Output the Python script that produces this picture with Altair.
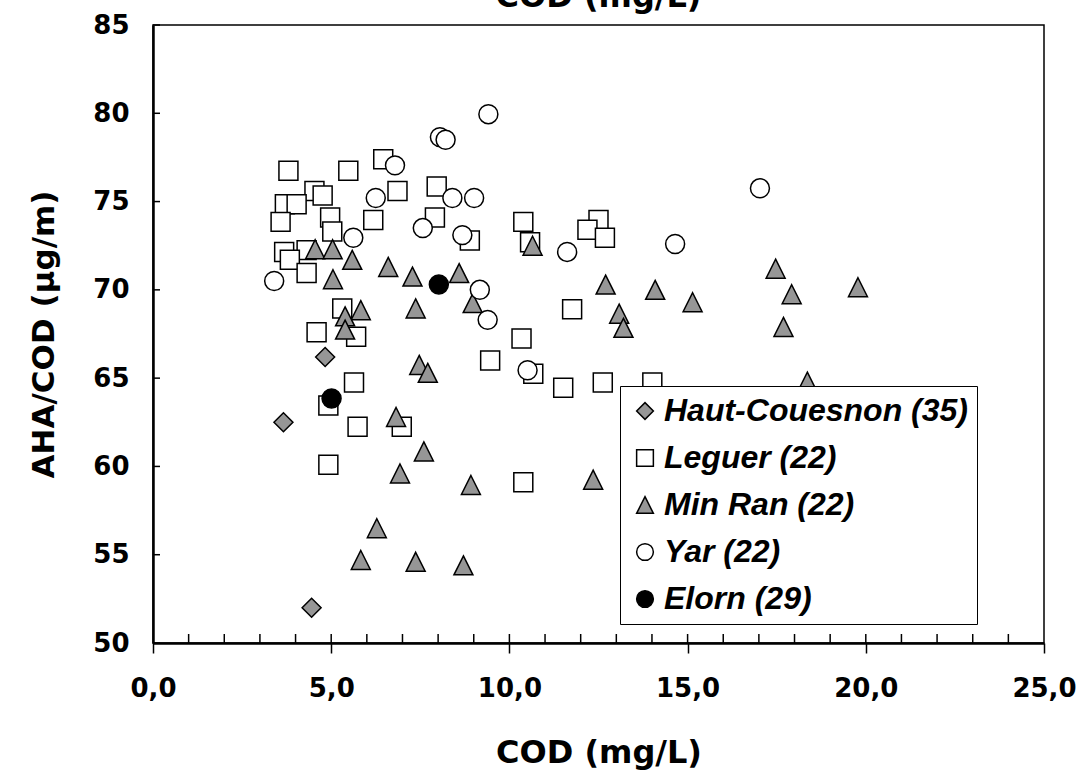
import altair as alt
import pandas as pd

# ---------------- data ----------------
series_names = ["Haut-Couesnon (35)", "Leguer (22)", "Min Ran (22)", "Yar (22)", "Elorn (29)"]

haut_x = [4.83, 3.66, 4.45]
haut_y = [66.2, 62.5, 52.0]

leguer_x = [3.80, 5.48, 6.46, 4.53, 4.76, 3.70, 4.03, 6.86, 7.96, 3.58, 4.97, 6.18, 7.91, 5.03,
            8.89, 10.39, 10.58, 3.68, 4.31, 3.84, 4.31, 5.31, 4.59, 5.70, 10.34, 9.46, 10.67,
            5.64, 4.92, 5.74, 6.98, 4.92, 10.39, 11.76, 11.51, 12.62, 14.01, 12.50, 12.19, 12.68]
leguer_y = [76.75, 76.75, 77.4, 75.6, 75.35, 74.85, 74.85, 75.6, 75.85, 73.85, 74.1, 73.95, 74.1, 73.3,
            72.8, 73.85, 72.7, 72.15, 72.25, 71.7, 70.95, 68.95, 67.6, 67.35, 67.25, 66.0, 65.25,
            64.75, 63.45, 62.25, 62.25, 60.1, 59.1, 68.9, 64.45, 64.75, 64.75, 73.95, 73.4, 72.95]

minran_x = [4.55, 5.04, 5.59, 6.60, 7.28, 8.59, 5.05, 8.97, 5.83, 7.37, 5.39, 5.39, 7.47, 7.71,
            10.65, 6.82, 7.60, 6.93, 8.92, 6.28, 5.83, 7.37, 8.71, 12.70, 14.09, 15.14, 13.08,
            13.20, 17.47, 17.92, 17.69, 18.36, 19.78, 12.35]
minran_y = [72.3, 72.3, 71.7, 71.3, 70.75, 70.95, 70.6, 69.25, 68.85, 68.95, 68.5, 67.75, 65.75, 65.3,
            72.5, 62.8, 60.85, 59.6, 58.95, 56.5, 54.7, 54.6, 54.4, 70.3, 70.0, 69.3, 68.65,
            67.85, 71.2, 69.75, 67.9, 64.8, 70.15, 59.25]

yar_x = [9.41, 8.05, 8.21, 6.79, 6.25, 8.40, 9.01, 7.57, 5.62, 8.68, 3.40, 9.17, 9.39, 10.51,
         17.03, 14.65, 11.62]
yar_y = [79.95, 78.65, 78.5, 77.05, 75.2, 75.2, 75.2, 73.5, 72.95, 73.1, 70.5, 70.0, 68.3, 65.45,
         75.75, 72.6, 72.15]

elorn_x = [8.02, 5.01]
elorn_y = [70.3, 63.85]

x_major = [0, 5, 10, 15, 20, 25]
x_minor = list(range(1, 25))
y_ticks = [50, 55, 60, 65, 70, 75, 80, 85]

shapes = ["diamond", "square", "M0,-1L1,1L-1,1Z", "circle", "circle"]
fills = ["#969696", "#ffffff", "#969696", "#ffffff", "#000000"]
strokes = ["#000000"] * 5

rows = []
for name, xs, ys in zip(series_names,
                        [haut_x, leguer_x, minran_x, yar_x, elorn_x],
                        [haut_y, leguer_y, minran_y, yar_y, elorn_y]):
    for xv, yv in zip(xs, ys):
        rows.append({"series": name, "cod": xv, "aha": yv})
df = pd.DataFrame(rows)
df["ord"] = range(len(df))

W, H = 891, 618
AX_FONT = "DejaVu Sans"

xscale = alt.Scale(domain=[0, 25], nice=False, zero=False)
yscale = alt.Scale(domain=[50, 85], nice=False, zero=False)

x_axis = alt.Axis(
    values=x_major, title="COD (mg/L)", grid=False,
    labelExpr="replace(format(datum.value, '.1f'), '.', ',')",
    tickSize=10, tickWidth=1.5, tickColor="black",
    domainColor="black", domainWidth=2.5,
    labelFont=AX_FONT, labelFontWeight="bold", labelFontSize=26, labelColor="black",
    labelPadding=22, labelFlush=False,
    titleFont=AX_FONT, titleFontWeight="bold", titleFontSize=32, titleColor="black",
    titlePadding=36)
y_axis = alt.Axis(
    values=y_ticks, title="AHA/COD (µg/m)", grid=False, ticks=False,
    domainColor="black", domainWidth=2.5,
    labelFont=AX_FONT, labelFontWeight="bold", labelFontSize=26, labelColor="black",
    labelPadding=24, labelFlush=False,
    titleFont=AX_FONT, titleFontWeight="bold", titleFontSize=31, titleColor="black",
    titlePadding=32)

leg = alt.Legend(title=None, symbolStrokeWidth=1.5, symbolOpacity=1)

points = alt.Chart(df).mark_point(
    filled=True, strokeWidth=1.5, size=360, opacity=1
).encode(
    x=alt.X("cod:Q", scale=xscale, axis=x_axis),
    y=alt.Y("aha:Q", scale=yscale, axis=y_axis),
    shape=alt.Shape("series:N", scale=alt.Scale(domain=series_names, range=shapes), legend=leg),
    fill=alt.Fill("series:N", scale=alt.Scale(domain=series_names, range=fills), legend=leg),
    stroke=alt.Stroke("series:N", scale=alt.Scale(domain=series_names, range=strokes), legend=leg),
    order=alt.Order("ord:Q"),
)

ytick_rules = alt.Chart(pd.DataFrame({"aha": y_ticks})).mark_rule(
    color="black", strokeWidth=1.5
).encode(
    y=alt.Y("aha:Q", scale=yscale, axis=y_axis),
    x=alt.value(0), x2=alt.value(7),
)

xtick_rules = alt.Chart(pd.DataFrame({"cod": x_minor})).mark_rule(
    color="black", strokeWidth=1.5
).encode(
    x=alt.X("cod:Q", scale=xscale, axis=x_axis),
    y=alt.value(H - 9), y2=alt.value(H),
)

top_title = alt.Chart(pd.DataFrame({"t": ["COD (mg/L)"]})).mark_text(
    font=AX_FONT, fontSize=32, fontWeight="bold", baseline="alphabetic", align="center", color="black"
).encode(
    text="t:N", x=alt.value(W / 2), y=alt.value(-18),
)

chart = alt.layer(ytick_rules, xtick_rules, points, top_title).properties(
    width=W, height=H,
    autosize=alt.AutoSizeParams(type="none"),
    padding={"left": 153, "top": 25, "right": 38, "bottom": 133},
    background="white",
).configure_view(
    stroke="black", strokeWidth=1.5
).configure_legend(
    orient="none", legendX=467, legendY=361,
    strokeColor="black", strokeWidth=1, fillColor="white",
    padding=9, rowPadding=15, symbolSize=280, symbolStrokeWidth=1.5,
    labelOffset=3, labelLimit=500,
    labelFont="Liberation Sans", labelFontStyle="italic", labelFontWeight="bold",
    labelFontSize=32, labelColor="black",
)

chart.save("out.html", embed_options={"renderer": "svg", "actions": False})
